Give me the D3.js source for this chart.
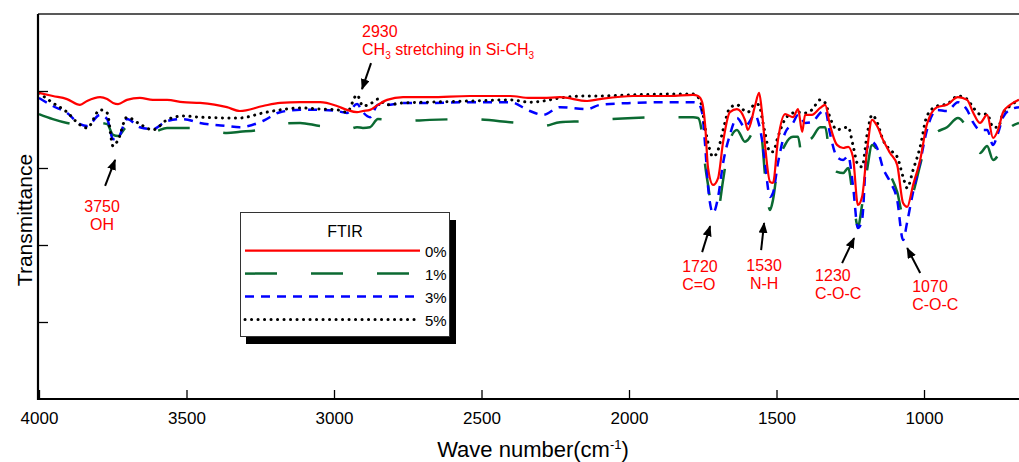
<!DOCTYPE html>
<html>
<head>
<meta charset="utf-8">
<script src="https://cdn.jsdelivr.net/npm/d3@7"></script>
<style>
  body { margin: 0; background: #fff; }
  text { font-family: Arial, "Liberation Sans", sans-serif; }
</style>
</head>
<body>
<div id="chart"></div>
<script>
// wave numbers (cm-1) shared by all four spectra
const waveNumbers = [4000, 3953, 3905, 3861, 3837, 3793, 3769, 3749, 3732, 3702,
  3658, 3614, 3566, 3512, 3454, 3363, 3319, 3241, 3183, 3115,
  3047, 2990, 2956, 2922, 2902, 2878, 2851, 2820, 2766, 2675,
  2539, 2403, 2336, 2291, 2234, 2142, 2098, 1986, 1861, 1783,
  1766, 1752, 1742, 1732, 1715, 1698, 1681, 1658, 1634, 1607,
  1597, 1573, 1559, 1549, 1539, 1522, 1512, 1495, 1471, 1444,
  1427, 1413, 1403, 1380, 1352, 1335, 1319, 1295, 1274, 1257,
  1241, 1224, 1210, 1193, 1176, 1159, 1139, 1115, 1091, 1071,
  1057, 1037, 1013, 990, 956, 922, 885, 854, 834, 810,
  786, 766, 749, 732, 708, 678];

// transmittance (arbitrary units)
const ftir0 = [79.5, 78.7, 77.9, 76.4, 77.4, 78.4, 77.9, 76.9, 76.6, 77.7,
  78.2, 77.7, 77.7, 77.1, 76.9, 75.8, 74.8, 76.1, 76.9, 77.1,
  77.1, 76.1, 75.1, 74.5, 74.8, 75.1, 76.4, 77.7, 78.4, 78.4,
  78.7, 78.7, 78.2, 78.2, 78.4, 77.4, 77.9, 78.7, 78.7, 79.0,
  78.7, 77.1, 71.2, 60.0, 55.6, 57.4, 66.8, 74.5, 75.3, 72.5,
  69.9, 76.1, 79.5, 74.3, 66.0, 56.4, 56.1, 67.3, 74.0, 73.2,
  75.3, 69.4, 73.8, 73.8, 75.6, 76.4, 71.2, 66.0, 65.2, 65.5,
  62.9, 50.4, 52.5, 64.7, 72.5, 70.9, 67.3, 63.9, 60.8, 50.9,
  49.9, 55.6, 62.1, 71.4, 75.8, 76.4, 78.4, 77.7, 74.5, 71.7,
  73.8, 67.8, 69.9, 74.5, 76.4, 77.7];

const ftir1 = [74.0, 72.7, 71.7, 71.2, 71.4, 71.7, 71.4, 68.6, 68.3, 70.6,
  70.1, 69.4, 70.4, 70.4, 70.4, 69.1, 69.4, 70.1, 71.4, 71.7,
  70.9, 70.6, 69.9, 70.6, 70.4, 70.6, 72.7, 72.5, 72.2, 72.5,
  72.7, 71.9, 71.4, 70.9, 71.9, 72.2, 72.5, 73.0, 73.2, 73.2,
  73.0, 68.6, 60.8, 55.6, 48.3, 49.1, 56.9, 67.3, 69.9, 66.8,
  67.3, 70.4, 71.7, 67.3, 58.2, 49.1, 51.7, 60.8, 66.0, 68.1,
  68.1, 62.6, 66.8, 67.8, 70.6, 70.6, 62.9, 59.0, 58.7, 60.0,
  52.5, 44.7, 50.4, 59.5, 66.0, 64.7, 60.8, 58.2, 53.8, 47.8,
  49.1, 53.5, 60.8, 67.3, 69.4, 70.6, 73.0, 70.4, 67.3, 63.9,
  65.7, 62.1, 63.4, 67.3, 70.4, 71.7];

const ftir3 = [78.2, 76.1, 74.3, 71.4, 70.9, 73.8, 72.7, 67.5, 67.8, 72.7,
  70.6, 70.1, 72.2, 72.7, 71.7, 70.9, 70.6, 72.2, 74.5, 75.1,
  75.1, 74.8, 74.3, 76.6, 74.5, 73.2, 76.4, 76.4, 76.9, 76.9,
  77.1, 77.1, 74.8, 73.8, 75.8, 75.3, 76.4, 76.9, 77.1, 77.1,
  76.9, 74.3, 66.0, 55.1, 48.3, 52.5, 61.3, 68.6, 73.0, 70.6,
  71.4, 73.8, 71.2, 67.3, 61.3, 52.5, 53.5, 61.3, 69.1, 71.7,
  73.8, 72.5, 71.7, 71.9, 74.3, 75.1, 69.1, 62.9, 62.1, 63.1,
  55.6, 44.4, 46.5, 65.2, 66.8, 65.2, 60.0, 56.4, 51.7, 41.3,
  46.0, 53.8, 61.6, 69.9, 75.1, 74.8, 77.1, 75.1, 71.9, 69.9,
  69.9, 66.0, 69.1, 73.2, 75.1, 75.8];

const ftir5 = [79.5, 76.9, 74.5, 71.2, 70.4, 75.1, 74.3, 65.7, 67.3, 73.2,
  71.4, 69.9, 72.5, 73.5, 73.2, 73.0, 73.0, 74.3, 75.1, 75.6,
  75.3, 75.1, 74.5, 79.0, 76.1, 76.6, 77.9, 76.4, 76.9, 77.1,
  77.4, 77.7, 77.1, 77.4, 78.2, 78.7, 78.7, 79.0, 79.2, 79.2,
  78.4, 75.6, 70.4, 66.5, 62.9, 64.7, 69.9, 75.6, 76.4, 74.8,
  74.5, 76.6, 76.4, 73.0, 69.1, 64.2, 64.2, 68.1, 72.7, 74.3,
  74.5, 74.3, 74.3, 75.1, 77.7, 76.9, 73.2, 69.9, 70.4, 70.6,
  66.0, 60.8, 60.3, 68.6, 73.8, 71.9, 67.3, 64.7, 62.9, 57.7,
  54.8, 59.5, 65.5, 73.5, 76.1, 76.6, 78.7, 77.9, 75.8, 74.0,
  74.0, 70.6, 70.6, 74.3, 76.1, 77.7];

const seriesNames = ["0%", "1%", "3%", "5%"];
const xTicks = [4000, 3500, 3000, 2500, 2000, 1500, 1000];
const yTicks = [20, 40, 60, 80];

// peak labels: wave number / transmittance where the arrow points
const peakLabels = [["3750", "OH"], ["2930", "CH3 stretching in Si-CH3"], ["1720", "C=O"],
  ["1530", "N-H"], ["1230", "C-O-C"], ["1070", "C-O-C"]];
const peakWave = [3742, 2905, 1725, 1542, 1237, 1057];
const peakTrans = [62.1, 80.5, 44.9, 45.7, 41.8, 39.2];

// styles, kept apart from the data
const styles = {
  "0%": { color: "#ff0000", dash: null, width: 2.2, cap: "butt" },
  "1%": { color: "#0b6a32", dash: "32,34", width: 2.5, cap: "butt" },
  "3%": { color: "#0000ff", dash: "9,7", width: 2.5, cap: "butt" },
  "5%": { color: "#000000", dash: "0.1,6.4", width: 3, cap: "round" }
};
const seriesValues = { "0%": ftir0, "1%": ftir1, "3%": ftir3, "5%": ftir5 };
// arrow tail offset and label offsets (pixels from arrow tip)
const annoLayout = [
  { tail: [-10, 26], anchor: "middle", tx: -13, ty: [52, 70] },
  { tail: [9, -26], anchor: "start", tx: 0, ty: [-52, -34] },
  { tail: [-8, 26], anchor: "start", tx: -28, ty: [46, 64] },
  { tail: [-3, 27], anchor: "middle", tx: 0, ty: [48, 66] },
  { tail: [-12, 25], anchor: "start", tx: -39, ty: [43, 61] },
  { tail: [13, 25], anchor: "start", tx: 5, ty: [44, 62] }
];

const W = 1019, H = 462;
const plotLeft = 38, plotRight = 1019, plotTop = 14, plotBottom = 399;

const svg = d3.select("#chart").append("svg")
  .attr("width", W)
  .attr("height", H);

const x = d3.scaleLinear().domain([4000, 678]).range([39, 1019]);
const y = d3.scaleLinear().domain([0, 100]).range([plotBottom, plotTop]);

const defs = svg.append("defs");
defs.append("clipPath").attr("id", "plot")
  .append("rect")
  .attr("x", plotLeft).attr("y", plotTop)
  .attr("width", plotRight - plotLeft).attr("height", plotBottom - plotTop);

const marker = defs.append("marker")
  .attr("id", "head")
  .attr("markerUnits", "userSpaceOnUse")
  .attr("markerWidth", 11).attr("markerHeight", 9)
  .attr("refX", 10).attr("refY", 4.5)
  .attr("orient", "auto");
marker.append("path").attr("d", "M0,0 L11,4.5 L0,9 Z").attr("fill", "#000");

// top frame line
svg.append("line")
  .attr("x1", plotLeft).attr("x2", plotRight)
  .attr("y1", plotTop).attr("y2", plotTop)
  .attr("stroke", "#222").attr("stroke-width", 1.5);

// spectra
const line = d3.line()
  .x((d, i) => x(waveNumbers[i]))
  .y(d => y(d))
  .curve(d3.curveMonotoneX);

const drawOrder = ["1%", "3%", "5%", "0%"];
svg.append("g").attr("clip-path", "url(#plot)")
  .selectAll("path")
  .data(drawOrder)
  .join("path")
  .attr("d", k => line(seriesValues[k]))
  .attr("fill", "none")
  .attr("stroke", k => styles[k].color)
  .attr("stroke-width", k => styles[k].width)
  .attr("stroke-dasharray", k => styles[k].dash)
  .attr("stroke-linecap", k => styles[k].cap)
  .attr("stroke-linejoin", "round");

// axes
const xAxis = svg.append("g")
  .attr("transform", `translate(0,${plotBottom})`)
  .call(d3.axisBottom(x).tickValues(xTicks).tickSizeInner(-9).tickSizeOuter(0).tickPadding(13).tickFormat(d3.format("d")));
xAxis.select(".domain").attr("stroke-width", 2.2).attr("d", `M${plotLeft},0H${plotRight}`);
xAxis.selectAll(".tick line").attr("stroke-width", 1.3);
xAxis.selectAll("text").attr("font-size", 17).attr("fill", "#000")
  .attr("font-family", "Arial, 'Liberation Sans', sans-serif");

const yAxis = svg.append("g")
  .attr("transform", `translate(${plotLeft},0)`)
  .call(d3.axisLeft(y).tickValues(yTicks).tickSizeInner(-10).tickSizeOuter(0).tickFormat(""));
yAxis.select(".domain").attr("stroke-width", 2.2).attr("d", `M0,${plotTop}V${plotBottom + 1}`);
yAxis.selectAll(".tick line").attr("stroke-width", 1.3);

// axis titles
const xTitle = svg.append("text")
  .attr("x", 533).attr("y", 457)
  .attr("text-anchor", "middle")
  .attr("font-size", 22);
xTitle.append("tspan").text("Wave number(cm");
xTitle.append("tspan").attr("font-size", 13).attr("dy", -8).text("-1");
xTitle.append("tspan").attr("dy", 8).text(")");

svg.append("text")
  .attr("transform", "translate(32,220) rotate(-90)")
  .attr("text-anchor", "middle")
  .attr("font-size", 21)
  .text("Transmittance");

// peak annotations
peakLabels.forEach((lab, i) => {
  const tipX = x(peakWave[i]), tipY = y(peakTrans[i]);
  const L = annoLayout[i];
  svg.append("line")
    .attr("x1", tipX + L.tail[0]).attr("y1", tipY + L.tail[1])
    .attr("x2", tipX).attr("y2", tipY)
    .attr("stroke", "#000").attr("stroke-width", 2)
    .attr("marker-end", "url(#head)");
  lab.forEach((s, j) => {
    const t = svg.append("text")
      .attr("x", tipX + L.tx).attr("y", tipY + L.ty[j])
      .attr("text-anchor", L.anchor)
      .attr("fill", "#ff0000")
      .attr("font-size", 16);
    // odd pieces are the subscript "3" of CH3
    const pieces = s.split(/(?<=CH)(3)/);
    let shift = 0;
    pieces.forEach((p, k) => {
      if (p === "") return;
      const sub = k % 2 === 1;
      const ts = t.append("tspan").text(p);
      if (sub) {
        ts.attr("font-size", 10).attr("dy", 4 - shift);
        shift = 4;
      } else if (shift) {
        ts.attr("dy", -shift);
        shift = 0;
      }
    });
  });
});

// legend
const lg = svg.append("g");
lg.append("rect").attr("x", 246).attr("y", 220).attr("width", 210).attr("height", 124).attr("fill", "#000");
lg.append("rect").attr("x", 240.5).attr("y", 212.5).attr("width", 209).attr("height", 124)
  .attr("fill", "#fff").attr("stroke", "#333").attr("stroke-width", 1);
lg.append("text").attr("x", 345).attr("y", 237).attr("text-anchor", "middle")
  .attr("font-size", 16).text("FTIR");
seriesNames.forEach((k, i) => {
  const ly = 250.7 + i * 22.9;
  lg.append("line")
    .attr("x1", 245).attr("x2", 420).attr("y1", ly).attr("y2", ly)
    .attr("stroke", styles[k].color)
    .attr("stroke-width", styles[k].width)
    .attr("stroke-dasharray", styles[k].dash)
    .attr("stroke-linecap", styles[k].cap);
  lg.append("text").attr("x", 425).attr("y", ly + 6.5)
    .attr("font-size", 15).text(k);
});
</script>
</body>
</html>
